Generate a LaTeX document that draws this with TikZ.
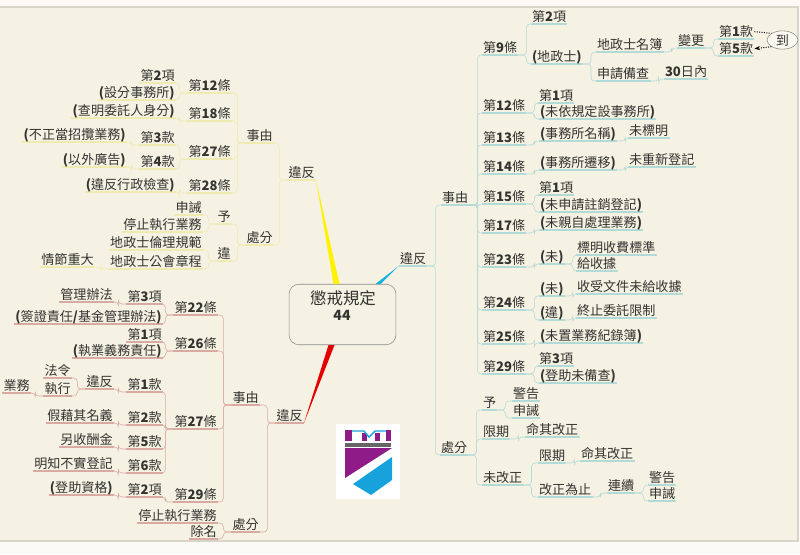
\documentclass[tikz,border=0pt]{standalone}
\usepackage{fontspec}
\setmainfont{Noto Sans CJK TC}
\usetikzlibrary{calc,shapes.geometric,arrows.meta}
\definecolor{paper}{HTML}{F5F2E3}
\definecolor{rim}{HTML}{D8D6CA}
\definecolor{ink}{HTML}{333330}
\definecolor{ybranch}{HTML}{EFEBB0}
\definecolor{cbranch}{HTML}{B2DAD6}
\definecolor{pbranch}{HTML}{D9AAA2}
\definecolor{logop}{HTML}{8E1B87}
\definecolor{logoc}{HTML}{17A2DC}
\newcommand{\pa}[1]{\textbf{(}#1\textbf{)}}
\tikzset{
    tree/.style={font=\fontsize{9.3pt}{11pt}\selectfont, text=ink, inner xsep=.7pt, inner ysep=.3pt,
        text height=8.2pt, text depth=1.2pt,
        append after command={\pgfextra{\draw [#1, line width=.8pt] (\tikzlastnode.south west) -- (\tikzlastnode.south east);}}},
    ynode/.style={tree=ybranch, anchor=south east, xshift=.7pt},
    pnode/.style={tree=pbranch, anchor=south east, xshift=.7pt},
    cnode/.style={tree=cbranch, anchor=south west, xshift=-.9pt},
    rlink/.style={line width=.8pt, rounded corners=2.5pt, to path={(\tikztostart.south east) -- ++(8,0) |- (\tikztotarget.south west)}},
    llink/.style={line width=.8pt, rounded corners=2.5pt, to path={(\tikztostart.south west) -- ++(-8,0) |- (\tikztotarget.south east)}},
    dotlink/.style={densely dotted, line width=.7pt, black},
}
\begin{document}
\begin{tikzpicture}[x=.025cm, y=-.025cm]
        \useasboundingbox (0, 0) rectangle (800, 554);
        \fill [white!60!paper] (0, 0) rectangle (800, 554);
        \draw [fill=paper, draw=rim, line width=.9pt] (-2, 7) rectangle (798, 541);

        \node [draw=black!45, fill=paper, rounded corners=7pt, minimum width=76pt, minimum height=43pt, inner sep=0pt] (box) at (342.5, 314.5) {};
        \node [font=\fontsize{11.7pt}{13pt}\selectfont, text=ink, inner sep=0pt] (boxtitle) at (343, 298) {懲戒規定};
        \node [font=\fontsize{10pt}{12pt}\selectfont\bfseries, text=ink, inner sep=0pt] (boxnum) at (342, 315) {44};

        \node [ynode] (lv) at (315, 180) {違反};
        \node [ynode] (lc) at (273, 143) {事由};
        \node [ynode] (lp) at (273, 245) {處分};
        \node [ynode] (l12) at (231, 93) {第\textbf{12}條};
        \node [ynode] (l18) at (231, 121) {第\textbf{18}條};
        \node [ynode] (l27) at (231, 159) {第\textbf{27}條};
        \node [ynode] (l28) at (231, 193) {第\textbf{28}條};
        \node [ynode] (l12a) at (175, 83) {第\textbf{2}項};
        \node [ynode] (l12b) at (175, 100) {\pa{設分事務所}};
        \node [ynode] (l18a) at (175, 118) {\pa{查明委託人身分}};
        \node [ynode] (l27a) at (175, 145) {第\textbf{3}款};
        \node [ynode] (l27b) at (175, 169) {第\textbf{4}款};
        \node [ynode] (l27c) at (126, 142) {\pa{不正當招攬業務}};
        \node [ynode] (l27d) at (126, 167) {\pa{以外廣告}};
        \node [ynode] (l28a) at (175, 192) {\pa{違反行政檢查}};
        \node [ynode] (lg) at (231, 224) {予};
        \node [ynode] (lw) at (231, 261) {違};
        \node [ynode] (lga) at (202, 215) {申誡};
        \node [ynode] (lgb) at (202, 232) {停止執行業務};
        \node [ynode] (lwa) at (202, 250) {地政士倫理規範};
        \node [ynode] (lwb) at (202, 269) {地政士公會章程};
        \node [ynode] (lwc) at (94, 267) {情節重大};

        \draw [ybranch] (lv) to [llink] (lc);
        \draw [ybranch] (lv) to [llink] (lp);
        \draw [ybranch] (lc) to [llink] (l12);
        \draw [ybranch] (lc) to [llink] (l18);
        \draw [ybranch] (lc) to [llink] (l27);
        \draw [ybranch] (lc) to [llink] (l28);
        \draw [ybranch] (l12) to [llink] (l12a);
        \draw [ybranch] (l12) to [llink] (l12b);
        \draw [ybranch] (l18) to [llink] (l18a);
        \draw [ybranch] (l27) to [llink] (l27a);
        \draw [ybranch] (l27) to [llink] (l27b);
        \draw [ybranch] (l27a) to [llink] (l27c);
        \draw [ybranch] (l27b) to [llink] (l27d);
        \draw [ybranch] (l28) to [llink] (l28a);
        \draw [ybranch] (lp) to [llink] (lg);
        \draw [ybranch] (lp) to [llink] (lw);
        \draw [ybranch] (lg) to [llink] (lga);
        \draw [ybranch] (lg) to [llink] (lgb);
        \draw [ybranch] (lw) to [llink] (lwa);
        \draw [ybranch] (lw) to [llink] (lwb);
        \draw [ybranch] (lwb) to [llink] (lwc);

        \node [pnode] (bv) at (303, 423) {違反};
        \node [pnode] (bc) at (259, 405) {事由};
        \node [pnode] (bp) at (259, 532) {處分};
        \node [pnode] (b22) at (217, 315) {第\textbf{22}條};
        \node [pnode] (b26) at (217, 351) {第\textbf{26}條};
        \node [pnode] (b27) at (217, 429) {第\textbf{27}條};
        \node [pnode] (b29) at (217, 502) {第\textbf{29}條};
        \node [pnode] (b22a) at (162, 304) {第\textbf{3}項};
        \node [pnode] (b22b) at (113, 302) {管理辦法};
        \node [pnode] (b22c) at (162, 324) {\pa{簽證責任\textbf{/}基金管理辦法}};
        \node [pnode] (b26a) at (162, 342) {第\textbf{1}項};
        \node [pnode] (b26b) at (162, 358) {\pa{執業義務責任}};
        \node [pnode] (b27a) at (162, 392) {第\textbf{1}款};
        \node [pnode] (b27b) at (113, 389) {違反};
        \node [pnode] (b27c) at (71, 378) {法令};
        \node [pnode] (b27d) at (71, 396) {執行};
        \node [pnode] (b27e) at (30, 393) {業務};
        \node [pnode] (b27f) at (162, 425) {第\textbf{2}款};
        \node [pnode] (b27g) at (113, 423) {假藉其名義};
        \node [pnode] (b27h) at (162, 449) {第\textbf{5}款};
        \node [pnode] (b27i) at (113, 447) {另收酬金};
        \node [pnode] (b27j) at (162, 473) {第\textbf{6}款};
        \node [pnode] (b27k) at (113, 471) {明知不實登記};
        \node [pnode] (b29a) at (162, 497) {第\textbf{2}項};
        \node [pnode] (b29b) at (113, 495) {\pa{登助資格}};
        \node [pnode] (bpa) at (217, 523) {停止執行業務};
        \node [pnode] (bpb) at (217, 539) {除名};

        \draw [pbranch] (bv) to [llink] (bc);
        \draw [pbranch] (bv) to [llink] (bp);
        \draw [pbranch] (bc) to [llink] (b22);
        \draw [pbranch] (bc) to [llink] (b26);
        \draw [pbranch] (bc) to [llink] (b27);
        \draw [pbranch] (bc) to [llink] (b29);
        \draw [pbranch] (b22) to [llink] (b22a);
        \draw [pbranch] (b22a) to [llink] (b22b);
        \draw [pbranch] (b22) to [llink] (b22c);
        \draw [pbranch] (b26) to [llink] (b26a);
        \draw [pbranch] (b26) to [llink] (b26b);
        \draw [pbranch] (b27) to [llink] (b27a);
        \draw [pbranch] (b27a) to [llink] (b27b);
        \draw [pbranch] (b27b) to [llink] (b27c);
        \draw [pbranch] (b27b) to [llink] (b27d);
        \draw [pbranch] (b27d) to [llink] (b27e);
        \draw [pbranch] (b27) to [llink] (b27f);
        \draw [pbranch] (b27f) to [llink] (b27g);
        \draw [pbranch] (b27) to [llink] (b27h);
        \draw [pbranch] (b27h) to [llink] (b27i);
        \draw [pbranch] (b27) to [llink] (b27j);
        \draw [pbranch] (b27j) to [llink] (b27k);
        \draw [pbranch] (b29) to [llink] (b29a);
        \draw [pbranch] (b29a) to [llink] (b29b);
        \draw [pbranch] (bp) to [llink] (bpa);
        \draw [pbranch] (bp) to [llink] (bpb);

        \node [cnode] (rv) at (400, 266) {違反};
        \node [cnode] (rc) at (442, 205) {事由};
        \node [cnode] (rp) at (441, 455) {處分};
        \node [cnode] (r9) at (483, 55) {第\textbf{9}條};
        \node [cnode] (r9a) at (532, 24) {第\textbf{2}項};
        \node [cnode] (r9b) at (532, 64) {\pa{地政士}};
        \node [cnode] (r9c) at (597, 52) {地政士名簿};
        \node [cnode] (r9d) at (678, 48) {變更};
        \node [cnode] (r9e) at (719, 39) {第\textbf{1}款};
        \node [cnode] (r9f) at (719, 56) {第\textbf{5}款};
        \node [draw=black!45, ellipse, fill=white!50!paper, font=\fontsize{9.3pt}{11pt}\selectfont, text=ink, minimum width=22pt, minimum height=13pt, inner sep=0pt] (dao) at (782.5, 40) {到};
        \node [cnode] (r9g) at (597, 81) {申請備查};
        \node [cnode] (r9h) at (665, 79) {\textbf{30}日內};
        \node [cnode] (r12) at (483, 113) {第\textbf{12}條};
        \node [cnode] (r12a) at (539, 103) {第\textbf{1}項};
        \node [cnode] (r12b) at (540, 119) {\pa{未依規定設事務所}};
        \node [cnode] (r13) at (483, 145) {第\textbf{13}條};
        \node [cnode] (r13a) at (540, 141) {\pa{事務所名稱}};
        \node [cnode] (r13b) at (629, 138) {未標明};
        \node [cnode] (r14) at (483, 174) {第\textbf{14}條};
        \node [cnode] (r14a) at (540, 170) {\pa{事務所遷移}};
        \node [cnode] (r14b) at (629, 167) {未重新登記};
        \node [cnode] (r15) at (483, 204) {第\textbf{15}條};
        \node [cnode] (r15a) at (539, 195) {第\textbf{1}項};
        \node [cnode] (r15b) at (540, 212) {\pa{未申請註銷登記}};
        \node [cnode] (r17) at (483, 233) {第\textbf{17}條};
        \node [cnode] (r17a) at (540, 230) {\pa{未親自處理業務}};
        \node [cnode] (r23) at (483, 267) {第\textbf{23}條};
        \node [cnode] (r23a) at (540, 264) {\pa{未}};
        \node [cnode] (r23b) at (577, 255) {標明收費標準};
        \node [cnode] (r23c) at (577, 271) {給收據};
        \node [cnode] (r24) at (483, 310) {第\textbf{24}條};
        \node [cnode] (r24a) at (540, 296) {\pa{未}};
        \node [cnode] (r24b) at (577, 294) {收受文件未給收據};
        \node [cnode] (r24c) at (540, 320) {\pa{違}};
        \node [cnode] (r24d) at (577, 318) {終止委託限制};
        \node [cnode] (r25) at (483, 344) {第\textbf{25}條};
        \node [cnode] (r25a) at (540, 343) {\pa{未置業務紀錄簿}};
        \node [cnode] (r29) at (483, 374) {第\textbf{29}條};
        \node [cnode] (r29a) at (539, 366) {第\textbf{3}項};
        \node [cnode] (r29b) at (540, 383) {\pa{登助未備查}};
        \node [cnode] (rg) at (483, 410) {予};
        \node [cnode] (rga) at (513, 401) {警告};
        \node [cnode] (rgb) at (513, 418) {申誡};
        \node [cnode] (rl) at (483, 439) {限期};
        \node [cnode] (rla) at (526, 437) {命其改正};
        \node [cnode] (ru) at (483, 485) {未改正};
        \node [cnode] (rua) at (539, 463) {限期};
        \node [cnode] (rub) at (581, 461) {命其改正};
        \node [cnode] (ruc) at (539, 497) {改正為止};
        \node [cnode] (rud) at (608, 493) {連續};
        \node [cnode] (rue) at (649, 485) {警告};
        \node [cnode] (ruf) at (649, 501) {申誡};

        \draw [cbranch] (rv) to [rlink] (rc);
        \draw [cbranch] (rv) to [rlink] (rp);
        \draw [cbranch] (rc) to [rlink] (r9);
        \draw [cbranch] (rc) to [rlink] (r12);
        \draw [cbranch] (rc) to [rlink] (r13);
        \draw [cbranch] (rc) to [rlink] (r14);
        \draw [cbranch] (rc) to [rlink] (r15);
        \draw [cbranch] (rc) to [rlink] (r17);
        \draw [cbranch] (rc) to [rlink] (r23);
        \draw [cbranch] (rc) to [rlink] (r24);
        \draw [cbranch] (rc) to [rlink] (r25);
        \draw [cbranch] (rc) to [rlink] (r29);
        \draw [cbranch] (r9) to [rlink] (r9a);
        \draw [cbranch] (r9) to [rlink] (r9b);
        \draw [cbranch] (r9b) to [rlink] (r9c);
        \draw [cbranch] (r9c) to [rlink] (r9d);
        \draw [cbranch] (r9d) to [rlink] (r9e);
        \draw [cbranch] (r9d) to [rlink] (r9f);
        \draw [cbranch] (r9b) to [rlink] (r9g);
        \draw [cbranch] (r9g) to [rlink] (r9h);
        \draw [cbranch] (r12) to [rlink] (r12a);
        \draw [cbranch] (r12) to [rlink] (r12b);
        \draw [cbranch] (r13) to [rlink] (r13a);
        \draw [cbranch] (r13a) to [rlink] (r13b);
        \draw [cbranch] (r14) to [rlink] (r14a);
        \draw [cbranch] (r14a) to [rlink] (r14b);
        \draw [cbranch] (r15) to [rlink] (r15a);
        \draw [cbranch] (r15) to [rlink] (r15b);
        \draw [cbranch] (r17) to [rlink] (r17a);
        \draw [cbranch] (r23) to [rlink] (r23a);
        \draw [cbranch] (r23a) to [rlink] (r23b);
        \draw [cbranch] (r23a) to [rlink] (r23c);
        \draw [cbranch] (r24) to [rlink] (r24a);
        \draw [cbranch] (r24a) to [rlink] (r24b);
        \draw [cbranch] (r24) to [rlink] (r24c);
        \draw [cbranch] (r24c) to [rlink] (r24d);
        \draw [cbranch] (r25) to [rlink] (r25a);
        \draw [cbranch] (r29) to [rlink] (r29a);
        \draw [cbranch] (r29) to [rlink] (r29b);
        \draw [cbranch] (rp) to [rlink] (rg);
        \draw [cbranch] (rg) to [rlink] (rga);
        \draw [cbranch] (rg) to [rlink] (rgb);
        \draw [cbranch] (rp) to [rlink] (rl);
        \draw [cbranch] (rl) to [rlink] (rla);
        \draw [cbranch] (rp) to [rlink] (ru);
        \draw [cbranch] (ru) to [rlink] (rua);
        \draw [cbranch] (rua) to [rlink] (rub);
        \draw [cbranch] (ru) to [rlink] (ruc);
        \draw [cbranch] (ruc) to [rlink] (rud);
        \draw [cbranch] (rud) to [rlink] (rue);
        \draw [cbranch] (rud) to [rlink] (ruf);

        \draw [dotlink] (r9e.east) -- (dao.north west);
        \draw [dotlink, -{Stealth[length=4pt]}] (dao.south west) -- (r9f.east);

        \fill [yellow] (lv.south east) -- ($(box.north)+(-9, 0)$) -- ($(box.north)+(-3, 0)$) -- cycle;
        \fill [red!90!black] (bv.south east) -- ($(box.south)+(-14, 0)$) -- ($(box.south)+(-8, 0)$) -- cycle;
        \fill [logoc!85!cyan] (rv.south west) -- ($(box.north)+(33, 0)$) -- ($(box.north)+(38, 0)$) -- cycle;

        \fill [white] (336, 424) rectangle (400, 499);
        \fill [logop] (345, 430) rectangle (352, 441);
        \fill [logop] (362, 433) rectangle (367, 441);
        \fill [logop] (375, 433) rectangle (380, 441);
        \fill [logop] (386, 430) rectangle (391, 441);
        \draw [logoc, line width=1pt] (352, 431) -- (364, 431) -- (369, 437) -- (375, 431) -- (386, 431);
        \fill [black!60] (345, 443) rectangle (391, 447);
        \fill [logop] (345, 448) -- (392, 448) -- (345, 478) -- cycle;
        \fill [logoc] (353, 484) -- (392, 457) -- (392, 480) -- (371, 495) -- cycle;
    \end{tikzpicture}
\end{document}
